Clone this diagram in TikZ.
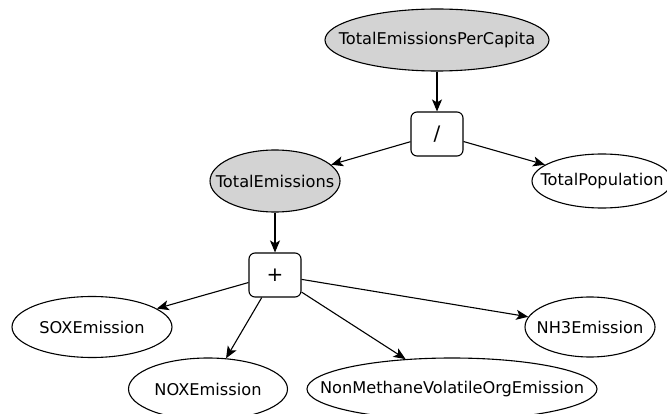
\documentclass[tikz,border=0pt]{standalone}
\usepackage{fontspec}
\setmainfont{DejaVu Sans}
\usetikzlibrary{shapes.geometric,arrows.meta}
\newcommand\zw[1]{\makebox[0pt]{#1}}
\definecolor{nodegray}{RGB}{211,211,211}
\tikzset{
  ell/.style={draw, ellipse, line width=1.1pt, inner sep=0pt, font=\fontsize{16.2}{19}\selectfont},
  grayell/.style={ell, fill=nodegray},
  opbox/.style={draw, rectangle, rounded corners=6pt, line width=1.1pt, fill=white, minimum width=52pt, minimum height=44pt, inner sep=0pt, font=\fontsize{20}{22}\selectfont},
  conn/.style={line width=1.1pt, -{Stealth[length=12pt,width=10pt,inset=3pt]}}
}
\begin{document}
\begin{tikzpicture}[x=1pt,y=-1pt]
\useasboundingbox (0,0) rectangle (667,414);
\node[grayell, minimum width=224pt, minimum height=62pt] (tepc) at (437,40) {\zw{TotalEmissionsPerCapita}};
\node[opbox] (div) at (437,134) {\zw{/}};
\node[grayell, minimum width=130pt, minimum height=62pt] (te) at (275,181) {\zw{TotalEmissions}};
\node[ell, minimum width=140pt, minimum height=54pt] (tp) at (602,181) {\zw{TotalPopulation}};
\node[opbox] (plus) at (275,275) {\zw{+}};
\node[ell, minimum width=160pt, minimum height=61pt] (sox) at (92,327) {\zw{SOXEmission}};
\node[ell, minimum width=159pt, minimum height=62pt] (nox) at (208,389) {\zw{NOXEmission}};
\node[ell, minimum width=290pt, minimum height=62pt] (nmv) at (452,389) {\zw{NonMethaneVolatileOrgEmission}};
\node[ell, minimum width=130pt, minimum height=60pt] (nh3) at (590,327) {\zw{NH3Emission}};
\draw[conn] (tepc) -- (div);
\draw[conn] (div) -- (te);
\draw[conn] (div) -- (tp);
\draw[conn] (te) -- (plus);
\draw[conn] (plus) -- (sox);
\draw[conn] (plus) -- (nox);
\draw[conn] (plus) -- (nmv);
\draw[conn] (plus) -- (nh3);
\end{tikzpicture}
\end{document}
